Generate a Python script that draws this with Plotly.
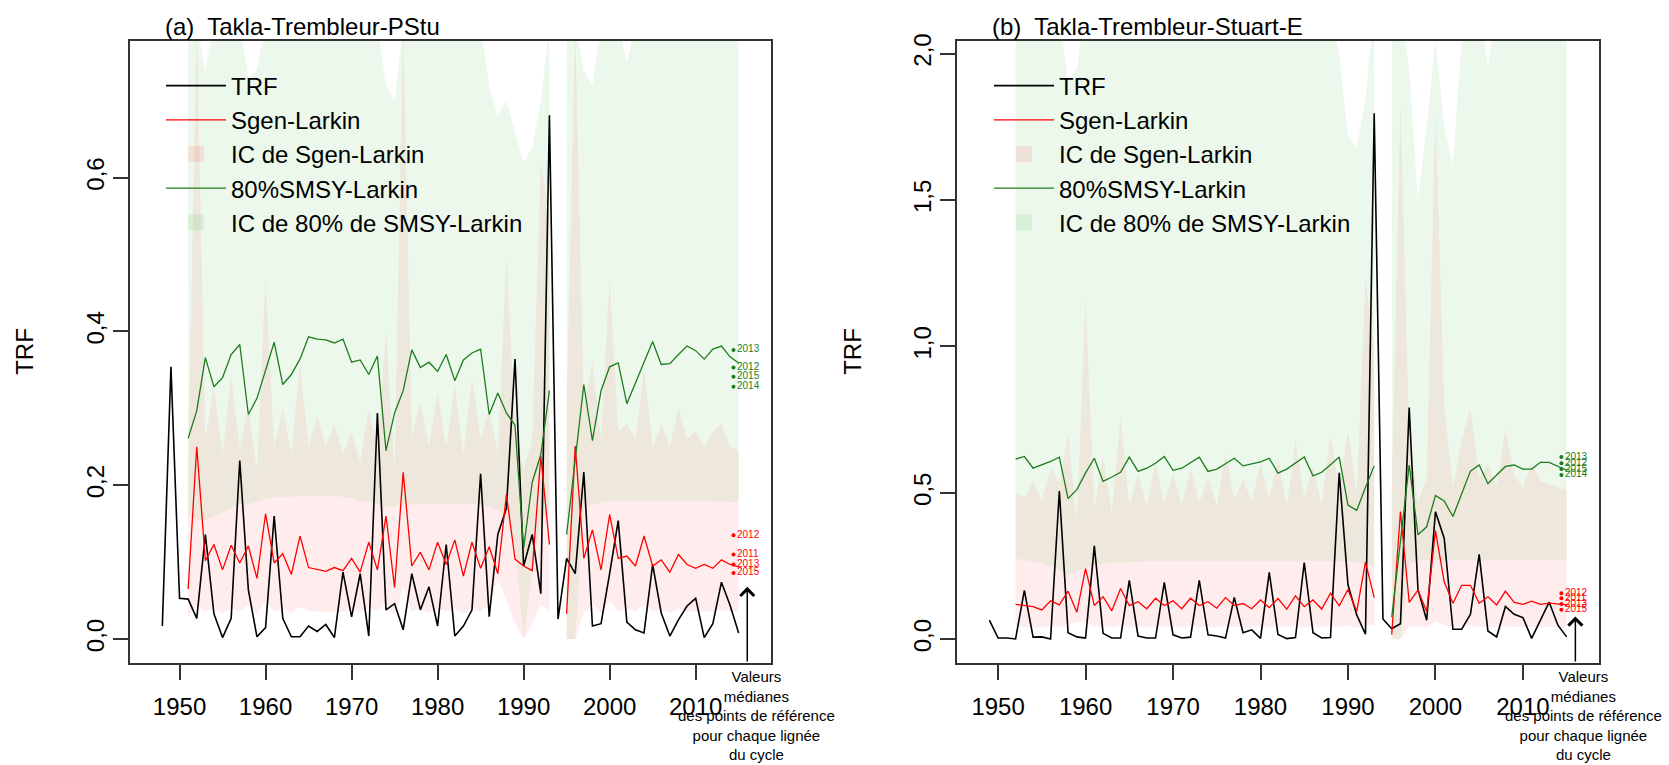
import plotly.graph_objects as go

# ---------------- Panel (a) data ----------------
years_trf_a = list(range(1948, 2016))
trf_a = [0.017, 0.354, 0.053, 0.052, 0.027, 0.136, 0.033, 0.002, 0.027, 0.232,
         0.064, 0.003, 0.015, 0.160, 0.027, 0.003, 0.003, 0.017, 0.010, 0.019,
         0.002, 0.087, 0.029, 0.085, 0.004, 0.294, 0.038, 0.046, 0.012, 0.085,
         0.038, 0.068, 0.017, 0.123, 0.004, 0.017, 0.038, 0.215, 0.029, 0.136,
         0.170, 0.364, 0.095, 0.136, 0.059, 0.681, 0.026, 0.105, 0.085, 0.217,
         0.017, 0.020, 0.085, 0.154, 0.022, 0.012, 0.008, 0.097, 0.034, 0.004,
         0.025, 0.043, 0.053, 0.002, 0.020, 0.074, 0.044, 0.008]

years_ci_a = list(range(1951, 2016))
sgen_a = [0.065, 0.250, 0.102, 0.123, 0.090, 0.122, 0.099, 0.121, 0.079, 0.163,
          0.099, 0.111, 0.084, 0.134, 0.093, 0.090, 0.088, 0.093, 0.089, 0.105,
          0.087, 0.126, 0.090, 0.160, 0.067, 0.217, 0.095, 0.113, 0.090, 0.126,
          0.097, 0.129, 0.082, 0.126, 0.092, 0.120, 0.085, 0.188, 0.104, 0.095,
          0.089, 0.238, 0.123, None, 0.033, 0.251, 0.105, 0.142, 0.090, 0.162,
          0.105, 0.108, 0.095, 0.134, 0.095, 0.103, 0.087, 0.110, 0.097, 0.092,
          0.097, 0.092, 0.103, 0.097, 0.094]
smsy_a = [0.261, 0.297, 0.366, 0.328, 0.340, 0.370, 0.383, 0.292, 0.313, 0.349,
          0.386, 0.331, 0.344, 0.364, 0.393, 0.390, 0.389, 0.385, 0.390, 0.360,
          0.363, 0.344, 0.368, 0.245, 0.294, 0.323, 0.376, 0.353, 0.360, 0.348,
          0.370, 0.336, 0.363, 0.372, 0.377, 0.292, 0.320, 0.294, 0.278, 0.118,
          0.204, 0.240, 0.323, None, 0.136, 0.235, 0.331, 0.258, 0.323, 0.354,
          0.359, 0.306, 0.333, 0.362, 0.387, 0.357, 0.358, 0.370, 0.381, 0.375,
          0.364, 0.377, 0.381, 0.367, 0.359]
sgen_lo_a = [0.028, 0.045, 0.035, 0.040, 0.033, 0.040, 0.036, 0.045, 0.032, 0.050,
             0.036, 0.040, 0.034, 0.042, 0.036, 0.036, 0.035, 0.036, 0.035, 0.040,
             0.035, 0.042, 0.036, 0.048, 0.030, 0.068, 0.036, 0.040, 0.034, 0.040,
             0.036, 0.040, 0.033, 0.040, 0.036, 0.045, 0.078, 0.050, 0.020, 0.000,
             0.020, 0.045, 0.035, None, 0.000, 0.000, 0.035, 0.045, 0.033, 0.050,
             0.036, 0.040, 0.036, 0.045, 0.036, 0.038, 0.034, 0.040, 0.036, 0.036,
             0.036, 0.036, 0.038, 0.036, 0.036]
sgen_hi_a = [0.23, 0.80, 0.26, 0.33, 0.24, 0.34, 0.25, 0.30, 0.22, 0.47,
             0.25, 0.30, 0.24, 0.36, 0.25, 0.29, 0.25, 0.28, 0.24, 0.27,
             0.23, 0.30, 0.25, 0.40, 0.22, 0.80, 0.26, 0.31, 0.25, 0.32,
             0.25, 0.33, 0.24, 0.34, 0.26, 0.30, 0.24, 0.50, 0.28, 0.22,
             0.26, 0.62, 0.55, None, 0.30, 0.80, 0.30, 0.36, 0.26, 0.47,
             0.27, 0.28, 0.26, 0.35, 0.25, 0.28, 0.25, 0.30, 0.26, 0.27,
             0.25, 0.27, 0.28, 0.25, 0.245]
smsy_lo_a = [0.160, 0.155, 0.155, 0.160, 0.165, 0.170, 0.175, 0.175, 0.178, 0.182,
             0.185, 0.185, 0.185, 0.186, 0.186, 0.186, 0.186, 0.186, 0.185, 0.183,
             0.180, 0.178, 0.176, 0.172, 0.172, 0.175, 0.175, 0.175, 0.176, 0.176,
             0.176, 0.176, 0.176, 0.176, 0.176, 0.172, 0.168, 0.160, 0.120, 0.000,
             0.090, 0.150, 0.170, None, 0.000, 0.000, 0.170, 0.175, 0.178, 0.180,
             0.180, 0.180, 0.180, 0.180, 0.180, 0.180, 0.180, 0.180, 0.180, 0.180,
             0.180, 0.180, 0.179, 0.178, 0.178]
smsy_hi_a = [0.80, 0.80, 0.74, 0.80, 0.80, 0.80, 0.80, 0.73, 0.74, 0.80,
             0.80, 0.80, 0.80, 0.80, 0.80, 0.80, 0.80, 0.80, 0.80, 0.80,
             0.80, 0.80, 0.80, 0.72, 0.70, 0.80, 0.80, 0.80, 0.80, 0.80,
             0.80, 0.80, 0.80, 0.80, 0.80, 0.72, 0.68, 0.70, 0.66, 0.62,
             0.64, 0.70, 0.80, None, 0.80, 0.80, 0.74, 0.72, 0.80, 0.80,
             0.80, 0.75, 0.80, 0.80, 0.80, 0.80, 0.80, 0.80, 0.80, 0.80,
             0.80, 0.80, 0.80, 0.80, 0.80]

lab_a_green_y = [0.376, 0.353, 0.341, 0.328]
lab_a_green_t = ["2013", "2012", "2015", "2014"]
lab_a_red_y = [0.135, 0.110, 0.097, 0.086]
lab_a_red_t = ["2012", "2011", "2013", "2015"]

# ---------------- Panel (b) data ----------------
years_trf_b = list(range(1949, 2016))
trf_b = [0.065, 0.004, 0.004, 0.001, 0.167, 0.007, 0.008, 0.001, 0.506, 0.022,
         0.008, 0.004, 0.319, 0.020, 0.004, 0.004, 0.201, 0.011, 0.004, 0.004,
         0.194, 0.015, 0.004, 0.007, 0.201, 0.015, 0.011, 0.004, 0.143, 0.022,
         0.032, 0.003, 0.228, 0.016, 0.002, 0.006, 0.262, 0.022, 0.004, 0.006,
         0.568, 0.186, 0.083, 0.017, 1.796, 0.069, 0.036, 0.053, 0.791, 0.170,
         0.065, 0.435, 0.345, 0.034, 0.034, 0.085, 0.290, 0.028, 0.008, 0.112,
         0.085, 0.074, 0.003, 0.068, 0.127, 0.048, 0.008]

years_ci_b = list(range(1952, 2016))
sgen_b = [0.119, 0.115, 0.111, 0.100, 0.131, 0.117, 0.164, 0.092, 0.241, 0.115,
          0.145, 0.097, 0.173, 0.115, 0.128, 0.104, 0.140, 0.115, 0.131, 0.104,
          0.140, 0.115, 0.128, 0.106, 0.142, 0.115, 0.122, 0.104, 0.134, 0.108,
          0.139, 0.103, 0.148, 0.111, 0.134, 0.103, 0.157, 0.114, 0.170, 0.095,
          0.263, 0.142, None, 0.016, 0.436, 0.126, 0.168, 0.095, 0.371, 0.196,
          0.123, 0.184, 0.184, 0.123, 0.145, 0.117, 0.164, 0.126, 0.119, 0.130,
          0.119, 0.123, 0.119, 0.117]
smsy_b = [0.615, 0.624, 0.584, 0.596, 0.607, 0.622, 0.480, 0.511, 0.568, 0.618,
          0.539, 0.554, 0.570, 0.622, 0.573, 0.584, 0.601, 0.624, 0.577, 0.584,
          0.604, 0.622, 0.573, 0.581, 0.599, 0.618, 0.592, 0.599, 0.606, 0.618,
          0.567, 0.581, 0.601, 0.622, 0.558, 0.570, 0.596, 0.622, 0.458, 0.440,
          0.518, 0.592, None, 0.075, 0.338, 0.595, 0.357, 0.384, 0.491, 0.472,
          0.419, 0.500, 0.574, 0.595, 0.531, 0.561, 0.590, 0.595, 0.581, 0.581,
          0.604, 0.604, 0.590, 0.577]
sgen_lo_b = [0.045, 0.042, 0.042, 0.040, 0.045, 0.042, 0.050, 0.058, 0.060, 0.042,
             0.045, 0.040, 0.048, 0.042, 0.044, 0.040, 0.045, 0.042, 0.044, 0.040,
             0.045, 0.042, 0.044, 0.040, 0.045, 0.042, 0.043, 0.040, 0.044, 0.040,
             0.045, 0.040, 0.046, 0.040, 0.044, 0.040, 0.047, 0.040, 0.048, 0.038,
             0.050, 0.045, None, 0.000, 0.000, 0.042, 0.045, 0.040, 0.060, 0.048,
             0.042, 0.046, 0.046, 0.042, 0.044, 0.040, 0.045, 0.042, 0.042, 0.042,
             0.042, 0.042, 0.042, 0.042]
sgen_hi_b = [0.505, 0.483, 0.539, 0.472, 0.584, 0.534, 0.703, 0.399, 1.16, 0.444,
             0.624, 0.432, 0.759, 0.455, 0.568, 0.455, 0.601, 0.466, 0.568, 0.460,
             0.584, 0.466, 0.556, 0.455, 0.635, 0.477, 0.545, 0.470, 0.600, 0.480,
             0.620, 0.450, 0.680, 0.480, 0.590, 0.460, 0.700, 0.510, 0.710, 0.500,
             1.230, 1.000, None, 0.500, 1.840, 0.680, 0.470, 0.550, 1.800, 0.800,
             0.520, 0.680, 0.790, 0.550, 0.600, 0.520, 0.720, 0.560, 0.520, 0.600,
             0.540, 0.530, 0.520, 0.510]
smsy_lo_b = [0.275, 0.270, 0.265, 0.260, 0.250, 0.235, 0.220, 0.230, 0.245, 0.255,
             0.258, 0.260, 0.262, 0.264, 0.265, 0.266, 0.268, 0.268, 0.270, 0.270,
             0.270, 0.270, 0.270, 0.270, 0.270, 0.270, 0.270, 0.268, 0.268, 0.268,
             0.268, 0.268, 0.268, 0.268, 0.268, 0.268, 0.268, 0.266, 0.265, 0.262,
             0.255, 0.250, None, 0.000, 0.000, 0.260, 0.268, 0.270, 0.272, 0.272,
             0.272, 0.272, 0.272, 0.272, 0.272, 0.272, 0.272, 0.272, 0.272, 0.272,
             0.272, 0.272, 0.272, 0.272]
smsy_hi_b = [2.15, 2.15, 2.15, 2.15, 2.15, 2.15, 1.90, 1.95, 2.15, 2.15,
             2.15, 2.15, 2.15, 2.15, 2.15, 2.15, 2.15, 2.15, 2.15, 2.15,
             2.15, 2.15, 2.15, 2.15, 2.15, 2.15, 2.15, 2.15, 2.15, 2.15,
             2.15, 2.15, 2.15, 2.15, 2.15, 2.15, 2.15, 2.00, 1.72, 1.68,
             1.85, 2.15, None, 2.15, 2.15, 1.95, 1.50, 1.75, 2.05, 1.75,
             1.62, 2.05, 2.15, 2.15, 1.96, 2.15, 2.15, 2.15, 2.15, 2.15,
             2.15, 2.15, 2.15, 2.15]

lab_b_green_y = [0.622, 0.601, 0.581, 0.561]
lab_b_green_t = ["2013", "2012", "2015", "2014"]
lab_b_red_y = [0.157, 0.140, 0.120, 0.101]
lab_b_red_t = ["2012", "2011", "2013", "2015"]

label_year = 2014.4
arrow_year = 2016

# ---------------- styling ----------------
FONT = "Liberation Sans, Arial, Helvetica, sans-serif"
PINK = "rgba(255,0,0,0.07)"
GREENF = "rgba(0,160,0,0.07)"
PINK_LEG = "rgba(255,0,0,0.09)"
GREEN_LEG = "rgba(0,160,0,0.09)"
C_RED = "#FF0000"
C_GREEN = "#1C7C1C"
C_BLACK = "#000000"


def band_polygon(years, lo, hi):
    xs, ys = [], []
    seg = []
    for yr, l, h in zip(years, lo, hi):
        if l is None or h is None:
            if seg:
                xs += [s[0] for s in seg] + [s[0] for s in seg[::-1]] + [None]
                ys += [s[2] for s in seg] + [s[1] for s in seg[::-1]] + [None]
            seg = []
        else:
            seg.append((yr, l, h))
    if seg:
        xs += [s[0] for s in seg] + [s[0] for s in seg[::-1]]
        ys += [s[2] for s in seg] + [s[1] for s in seg[::-1]]
    return xs, ys


fig = go.Figure()


def add_panel(xa, ya, legend, years_trf, trf, years_ci, sgen, smsy,
              sl, sh, ml, mh, gy, gt, ry, rt):
    px, py = band_polygon(years_ci, sl, sh)
    fig.add_trace(go.Scatter(x=px, y=py, fill="toself", fillcolor=PINK, mode="lines",
                             line=dict(width=0, color="rgba(0,0,0,0)"),
                             showlegend=False, xaxis=xa, yaxis=ya, hoverinfo="skip"))
    gx, gyy = band_polygon(years_ci, ml, mh)
    fig.add_trace(go.Scatter(x=gx, y=gyy, fill="toself", fillcolor=GREENF, mode="lines",
                             line=dict(width=0, color="rgba(0,0,0,0)"),
                             showlegend=False, xaxis=xa, yaxis=ya, hoverinfo="skip"))
    fig.add_trace(go.Scatter(x=years_trf, y=trf, mode="lines",
                             line=dict(color=C_BLACK, width=1.6),
                             name="TRF", legend=legend, legendrank=1,
                             xaxis=xa, yaxis=ya))
    fig.add_trace(go.Scatter(x=years_ci, y=sgen, mode="lines",
                             line=dict(color=C_RED, width=1.3),
                             name="Sgen-Larkin", legend=legend, legendrank=2,
                             xaxis=xa, yaxis=ya))
    fig.add_trace(go.Scatter(x=years_ci, y=smsy, mode="lines",
                             line=dict(color=C_GREEN, width=1.3),
                             name="80%SMSY-Larkin", legend=legend, legendrank=4,
                             xaxis=xa, yaxis=ya))
    # legend-only swatches for the confidence bands
    fig.add_trace(go.Scatter(x=[None], y=[None], mode="markers",
                             marker=dict(symbol="square", size=30, color=PINK_LEG),
                             name="IC de Sgen-Larkin", legend=legend, legendrank=3,
                             xaxis=xa, yaxis=ya))
    fig.add_trace(go.Scatter(x=[None], y=[None], mode="markers",
                             marker=dict(symbol="square", size=30, color=GREEN_LEG),
                             name="IC de 80% de SMSY-Larkin", legend=legend, legendrank=5,
                             xaxis=xa, yaxis=ya))
    fig.add_trace(go.Scatter(x=[label_year] * len(gy), y=gy, text=gt,
                             mode="markers+text", textposition="middle right",
                             marker=dict(color=C_GREEN, size=4),
                             textfont=dict(color=C_GREEN, size=10, family=FONT),
                             showlegend=False, xaxis=xa, yaxis=ya))
    fig.add_trace(go.Scatter(x=[label_year] * len(ry), y=ry, text=rt,
                             mode="markers+text", textposition="middle right",
                             marker=dict(color=C_RED, size=4),
                             textfont=dict(color=C_RED, size=10, family=FONT),
                             showlegend=False, xaxis=xa, yaxis=ya))


add_panel("x", "y", "legend", years_trf_a, trf_a, years_ci_a, sgen_a, smsy_a,
          sgen_lo_a, sgen_hi_a, smsy_lo_a, smsy_hi_a,
          lab_a_green_y, lab_a_green_t, lab_a_red_y, lab_a_red_t)
add_panel("x2", "y2", "legend2", years_trf_b, trf_b, years_ci_b, sgen_b, smsy_b,
          sgen_lo_b, sgen_hi_b, smsy_lo_b, smsy_hi_b,
          lab_b_green_y, lab_b_green_t, lab_b_red_y, lab_b_red_t)

W, H = 1669, 765


def fx(p):
    return p / W


def fy(p):
    return 1 - p / H


axis_common = dict(showline=True, linecolor="#333333", linewidth=1.5, mirror=True,
                   ticks="outside", ticklen=15, tickwidth=1.5, tickcolor="#333333",
                   showgrid=False, zeroline=False,
                   tickfont=dict(size=24, color="#000000", family=FONT))

x_ticks = [1950, 1960, 1970, 1980, 1990, 2000, 2010]

legend_common = dict(xanchor="left", yanchor="top", bgcolor="rgba(0,0,0,0)",
                     itemwidth=60, font=dict(size=24, family=FONT, color="#000000"),
                     traceorder="normal")

fig.update_layout(
    width=W, height=H, autosize=False,
    margin=dict(l=0, r=0, t=0, b=0),
    paper_bgcolor="white", plot_bgcolor="white",
    separators=", ",
    font=dict(family=FONT, color="#000000"),
    xaxis=dict(domain=[fx(130), fx(771)], range=[1944.24, 2018.76], anchor="y",
               tickvals=x_ticks, ticklabelstandoff=7, **axis_common),
    yaxis=dict(domain=[fy(662), fy(34)], range=[-0.031, 0.778], anchor="x",
               tickvals=[0, 0.2, 0.4, 0.6], tickformat=".1f", tickangle=-90,
               **axis_common),
    xaxis2=dict(domain=[fx(957), fx(1599)], range=[1945.3, 2018.7], anchor="y2",
                tickvals=x_ticks, ticklabelstandoff=7, **axis_common),
    yaxis2=dict(domain=[fy(662), fy(34)], range=[-0.081, 2.044], anchor="x2",
                tickvals=[0, 0.5, 1.0, 1.5, 2.0], tickformat=".1f", tickangle=-90,
                **axis_common),
    legend=dict(x=fx(161), y=fy(57), **legend_common),
    legend2=dict(x=fx(989), y=fy(57), **legend_common),
)

annotations = [
    dict(text="(a)\u00a0 Takla-Trembleur-PStu", xref="paper", yref="paper",
         x=fx(163), y=fy(20), xanchor="left", yanchor="middle", showarrow=False,
         font=dict(size=24, family=FONT)),
    dict(text="(b)\u00a0 Takla-Trembleur-Stuart-E", xref="paper", yref="paper",
         x=fx(990), y=fy(20), xanchor="left", yanchor="middle", showarrow=False,
         font=dict(size=24, family=FONT)),
    dict(text="TRF", xref="paper", yref="paper", x=fx(25), y=fy(348),
         xanchor="center", yanchor="middle", textangle=-90, showarrow=False,
         font=dict(size=24, family=FONT)),
    dict(text="TRF", xref="paper", yref="paper", x=fx(853), y=fy(348),
         xanchor="center", yanchor="middle", textangle=-90, showarrow=False,
         font=dict(size=24, family=FONT)),
]
note = "Valeurs<br>médianes<br>des points de référence<br>pour chaque lignée<br>du cycle"
for cx in (756, 1583):
    annotations.append(dict(text=note, xref="paper", yref="paper", x=fx(cx), y=fy(715),
                            xanchor="center", yanchor="middle", align="center",
                            showarrow=False, font=dict(size=15, family=FONT)))
annotations.append(dict(x=arrow_year, y=0.068, ax=arrow_year, ay=-0.031,
                        xref="x", yref="y", axref="x", ayref="y", text="",
                        showarrow=True, arrowhead=4, arrowsize=1.8, arrowwidth=1.5,
                        arrowcolor="#000000"))
annotations.append(dict(x=arrow_year, y=0.078, ax=arrow_year, ay=-0.081,
                        xref="x2", yref="y2", axref="x2", ayref="y2", text="",
                        showarrow=True, arrowhead=4, arrowsize=1.8, arrowwidth=1.5,
                        arrowcolor="#000000"))
fig.update_layout(annotations=annotations)

fig.write_html("out.html")
